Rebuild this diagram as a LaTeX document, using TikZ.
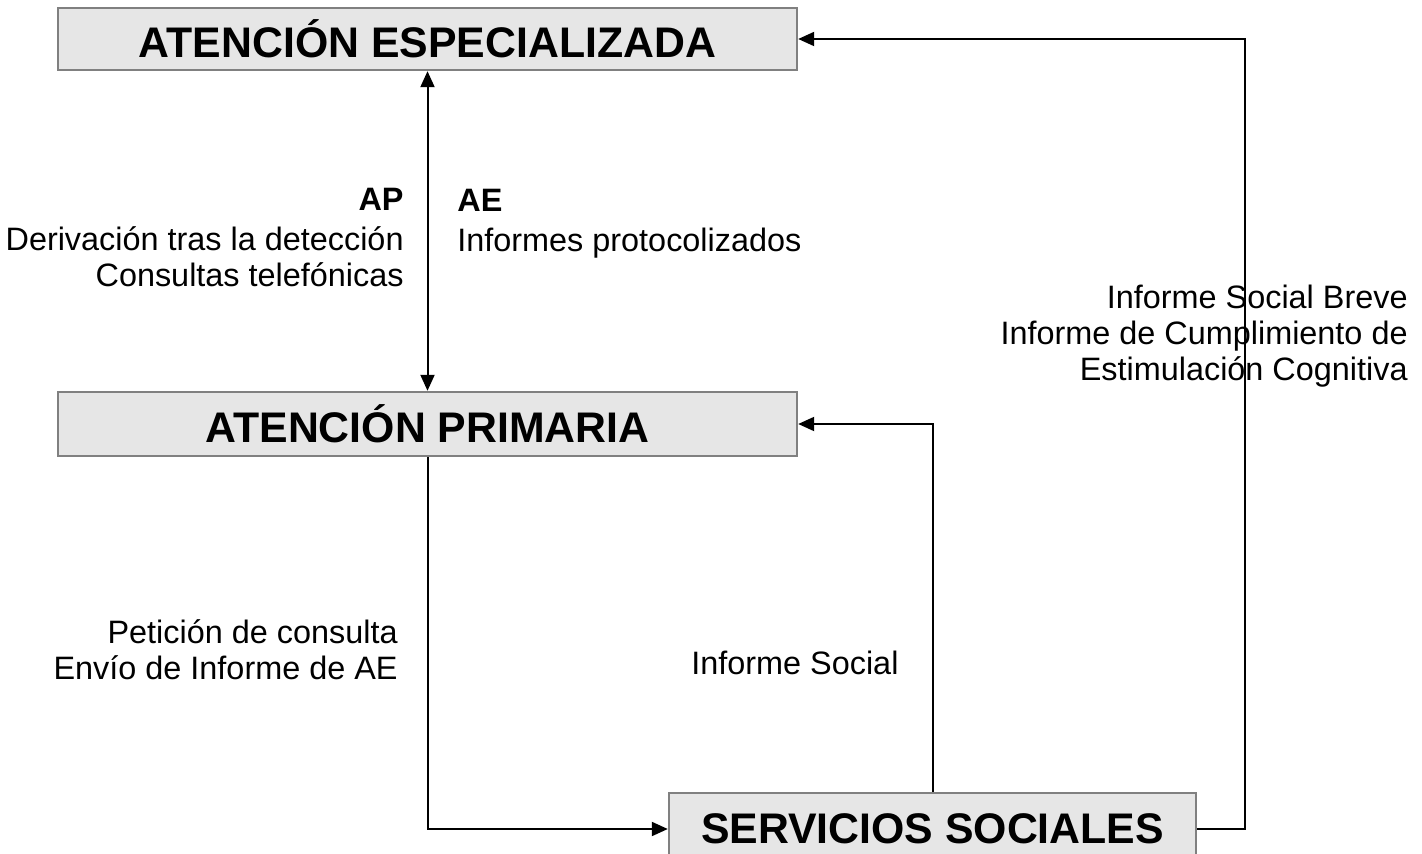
\documentclass[tikz,border=0pt]{standalone}
\usepackage{fontspec}
\setmainfont{Liberation Sans}
\usepackage{xcolor}
\usetikzlibrary{shapes,arrows.meta,positioning,calc}

\definecolor{boxgray}{HTML}{E6E6E6}
\definecolor{edgegray}{HTML}{808080}

\begin{document}
\begin{tikzpicture}[x=0.5pt,y=-0.5pt,
    sector/.style={draw=edgegray, line width=1.2pt, fill=boxgray, inner sep=0pt,
        font=\fontsize{21.4pt}{25pt}\selectfont\bfseries},
    flow/.style={line width=1pt, -{Triangle[length=8pt,width=7pt]}},
    note/.style={inner sep=0pt, font=\fontsize{16.2pt}{18pt}\selectfont}]
\useasboundingbox (0,0) rectangle (1422,854);
\clip (0,0) rectangle (1422,854);

% the three levels of care
\node[sector, minimum width=369.5pt, minimum height=31pt] (ae) at (427.5,39) {ATENCIÓN ESPECIALIZADA};
\node[sector, minimum width=369.5pt, minimum height=32pt] (ap) at (427.5,424) {ATENCIÓN PRIMARIA};
\node[sector, minimum width=263.5pt, minimum height=36pt] (ss) at (932.5,829) {SERVICIOS SOCIALES};

\coordinate (rc) at (1245,39);

\draw[line width=1pt, {Triangle[length=8pt,width=7pt]}-{Triangle[length=8pt,width=7pt]}] (ae.south) -- (ap.north);
\draw[flow] (ap.south) |- (ss.west);
\draw[flow] (ss.north) |- (ap.east);
\draw[flow] (ss.east) -| (rc) -- (ae.east);

\node[note, anchor=base east, align=right] (apnote) at (404,287)
    {\textbf{AP}\\[2pt] Derivación tras la detección\\ Consultas telefónicas};
\node[note, anchor=base west, align=left] (aenote) at (457,252)
    {\textbf{AE}\\[2pt] Informes protocolizados};
\node[note, anchor=base east, align=right] (ssnote) at (1408,381)
    {Informe Social Breve\\ Informe de Cumplimiento de\\ Estimulación Cognitiva};
\node[note, anchor=base east, align=right] (petnote) at (398,679)
    {Petición de consulta\\ Envío de Informe de AE};
\node[note, anchor=base west] (isnote) at (691,674) {Informe Social};
\end{tikzpicture}
\end{document}
